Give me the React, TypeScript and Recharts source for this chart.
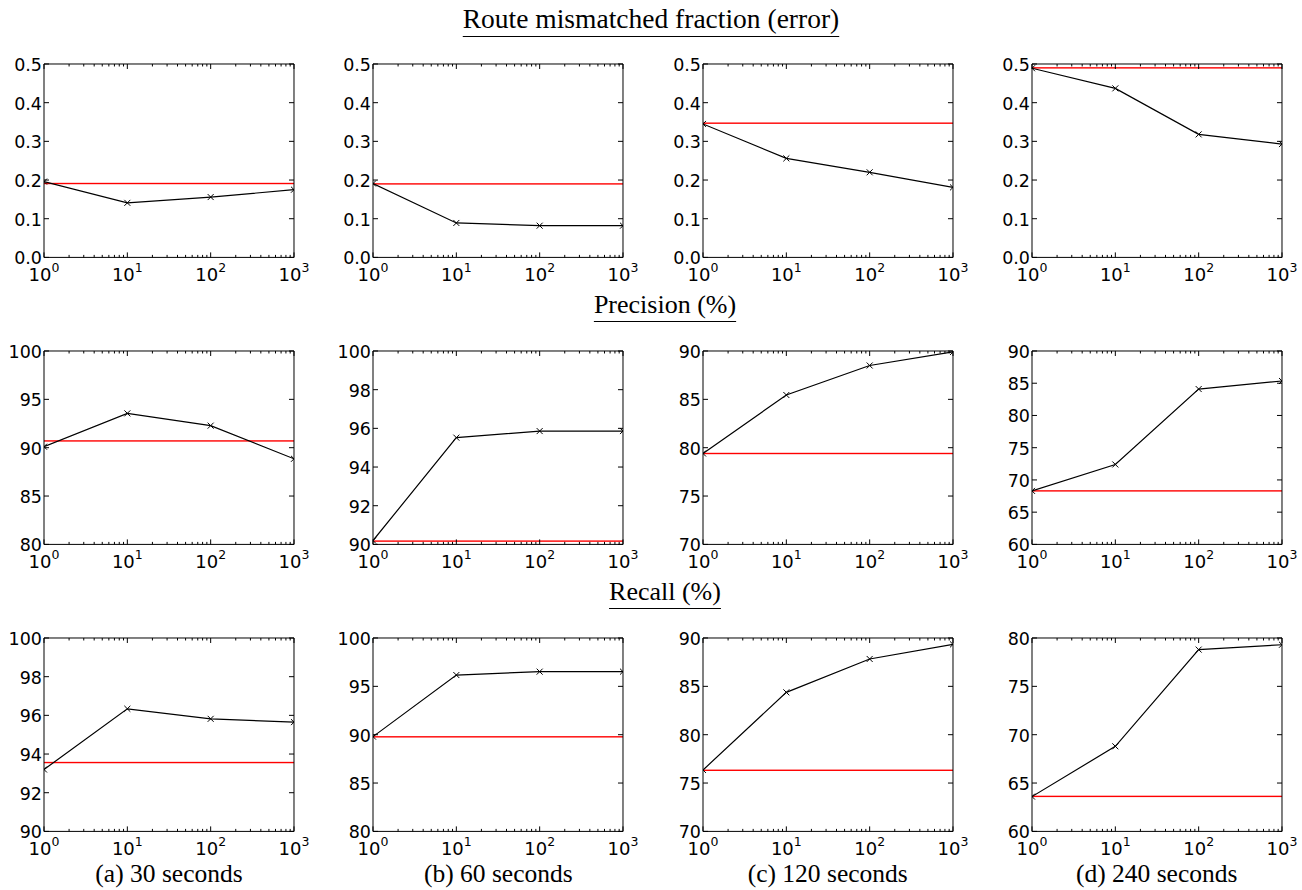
import React from 'react';
import { LineChart, Line, XAxis, YAxis, ReferenceLine } from 'recharts';

// x positions (log scale) shared by every panel
const xValues = [1, 10, 100, 1000];
const xTicks = [
  1, 2, 3, 4, 5, 6, 7, 8, 9,
  10, 20, 30, 40, 50, 60, 70, 80, 90,
  100, 200, 300, 400, 500, 600, 700, 800, 900,
  1000,
];

const rowTitles = ['Route mismatched fraction (error)', 'Precision (%)', 'Recall (%)'];
const captions = ['(a) 30 seconds', '(b) 60 seconds', '(c) 120 seconds', '(d) 240 seconds'];

// route mismatched fraction
const errorSeries = [
  [0.196, 0.141, 0.156, 0.175],
  [0.191, 0.089, 0.082, 0.082],
  [0.345, 0.256, 0.22, 0.181],
  [0.489, 0.437, 0.318, 0.293],
];
const errorBaseline = [0.191, 0.19, 0.347, 0.49];
const errorTicks = [
  [0, 0.1, 0.2, 0.3, 0.4, 0.5],
  [0, 0.1, 0.2, 0.3, 0.4, 0.5],
  [0, 0.1, 0.2, 0.3, 0.4, 0.5],
  [0, 0.1, 0.2, 0.3, 0.4, 0.5],
];

// precision (%)
const precisionSeries = [
  [90.1, 93.55, 92.28, 88.85],
  [90.2, 95.52, 95.86, 95.86],
  [79.4, 85.45, 88.5, 89.9],
  [68.3, 72.4, 84.1, 85.35],
];
const precisionBaseline = [90.7, 90.17, 79.4, 68.3];
const precisionTicks = [
  [80, 85, 90, 95, 100],
  [90, 92, 94, 96, 98, 100],
  [70, 75, 80, 85, 90],
  [60, 65, 70, 75, 80, 85, 90],
];

// recall (%)
const recallSeries = [
  [93.2, 96.34, 95.82, 95.65],
  [89.8, 96.17, 96.52, 96.52],
  [76.35, 84.38, 87.83, 89.34],
  [63.6, 68.8, 78.8, 79.3],
];
const recallBaseline = [93.56, 89.78, 76.32, 63.62];
const recallTicks = [
  [90, 92, 94, 96, 98, 100],
  [80, 85, 90, 95, 100],
  [70, 75, 80, 85, 90],
  [60, 65, 70, 75, 80],
];

const COL_LEFT = [44, 373.3, 702.7, 1031.7];
const ROW_TOP = [64.3, 351, 637.7];
const PW = 250;
const PH = 193.4;
const ML = 50;
const MT = 12;
const MR = 20;
const MB = 34;

const tickFont = '"DejaVu Sans", sans-serif';
const serif = '"Liberation Serif", "Times New Roman", serif';

const isMajor = (v: number) => {
  const e = Math.log10(v);
  return Math.abs(e - Math.round(e)) < 1e-9;
};

const BottomTick = (props: any) => {
  const { x, y, payload } = props;
  const v = payload.value;
  const major = isMajor(v);
  return (
    <g>
      <line x1={x} x2={x} y1={y} y2={y - (major ? 5 : 2.5)} stroke="#000" strokeWidth={1} />
      {major && (
        <text x={x} y={y + 24} textAnchor="middle" fontFamily={tickFont} fontSize={18} fill="#000">
          <tspan>10</tspan>
          <tspan dy={-9} fontSize={12.5}>{Math.round(Math.log10(v))}</tspan>
        </text>
      )}
    </g>
  );
};

const TopTick = (props: any) => {
  const { x, y, payload } = props;
  const major = isMajor(payload.value);
  return <line x1={x} x2={x} y1={y} y2={y + (major ? 5 : 2.5)} stroke="#000" strokeWidth={1} />;
};

const makeLeftTick = (decimals: number) => (props: any) => {
  const { x, y, payload } = props;
  return (
    <g>
      <line x1={x} x2={x + 5} y1={y} y2={y} stroke="#000" strokeWidth={1} />
      <text x={x - 2} y={y + 7} textAnchor="end" fontFamily={tickFont} fontSize={17.5} fill="#000">
        {Number(payload.value).toFixed(decimals)}
      </text>
    </g>
  );
};

const RightTick = (props: any) => {
  const { x, y } = props;
  return <line x1={x} x2={x - 5} y1={y} y2={y} stroke="#000" strokeWidth={1} />;
};

// red baseline drawn as a thin filled bar at the scaled y position
const BaselineShape = (props: any) => {
  const { x1, y1, x2 } = props;
  if (x1 == null || y1 == null) return <g />;
  return <rect x={x1} y={y1 - 0.7} width={x2 - x1} height={1.4} fill="#ff0000" stroke="none" />;
};

const renderCross = (props: any) => {
  const { cx, cy, index } = props;
  if (cx == null || cy == null) return <g key={`d-${index}`} />;
  const s = 3;
  return (
    <path
      key={`d-${index}`}
      d={`M${cx - s},${cy - s}L${cx + s},${cy + s}M${cx - s},${cy + s}L${cx + s},${cy - s}`}
      stroke="#000"
      strokeWidth={1}
      fill="none"
    />
  );
};

interface PanelProps {
  left: number;
  top: number;
  values: number[];
  baseline: number;
  yTicks: number[];
  decimals: number;
}

const Panel = ({ left, top, values, baseline, yTicks, decimals }: PanelProps) => {
  const data = xValues.map((x, i) => ({ x, y: values[i] }));
  const domain = [yTicks[0], yTicks[yTicks.length - 1]];
  const axisLine = { stroke: '#000', strokeWidth: 1 };
  return (
    <div style={{ position: 'absolute', left: left - ML, top: top - MT }}>
      <LineChart
        width={PW + ML + MR}
        height={PH + MT + MB}
        data={data}
        margin={{ top: 0, right: 0, bottom: 0, left: 0 }}
      >
        <XAxis
          xAxisId="b"
          dataKey="x"
          type="number"
          scale="log"
          domain={[1, 1000]}
          ticks={xTicks}
          interval={0}
          allowDataOverflow
          height={MB}
          tickSize={0}
          tickMargin={0}
          tickLine={false}
          axisLine={axisLine}
          tick={BottomTick}
        />
        <XAxis
          xAxisId="t"
          orientation="top"
          dataKey="x"
          type="number"
          scale="log"
          domain={[1, 1000]}
          ticks={xTicks}
          interval={0}
          allowDataOverflow
          height={MT}
          tickSize={0}
          tickMargin={0}
          tickLine={false}
          axisLine={axisLine}
          tick={TopTick}
        />
        <YAxis
          yAxisId="l"
          type="number"
          domain={domain}
          ticks={yTicks}
          interval={0}
          allowDataOverflow
          width={ML}
          tickSize={0}
          tickMargin={0}
          tickLine={false}
          axisLine={axisLine}
          tick={makeLeftTick(decimals)}
        />
        <YAxis
          yAxisId="r"
          orientation="right"
          type="number"
          domain={domain}
          ticks={yTicks}
          interval={0}
          allowDataOverflow
          width={MR}
          tickSize={0}
          tickMargin={0}
          tickLine={false}
          axisLine={axisLine}
          tick={RightTick}
        />
        <ReferenceLine
          xAxisId="b"
          yAxisId="l"
          y={baseline}
          stroke="#ff0000"
          shape={BaselineShape}
        />
        <Line
          xAxisId="b"
          yAxisId="l"
          dataKey="y"
          stroke="#000"
          strokeWidth={1.2}
          dot={renderCross}
          activeDot={false}
          isAnimationActive={false}
        />
      </LineChart>
    </div>
  );
};

const rows = [
  { series: errorSeries, baselines: errorBaseline, ticks: errorTicks, decimals: 1 },
  { series: precisionSeries, baselines: precisionBaseline, ticks: precisionTicks, decimals: 0 },
  { series: recallSeries, baselines: recallBaseline, ticks: recallTicks, decimals: 0 },
];

const titleCenters = [651, 665, 665];
const titleTops = [5.5, 292, 579];
const titleSizes = [27.5, 26, 26];

export default function App() {
  return (
    <div
      style={{
        position: 'absolute',
        left: 0,
        top: 0,
        width: 1302,
        height: 890,
        background: '#fff',
        overflow: 'hidden',
      }}
    >
      {rowTitles.map((t, r) => (
        <div
          key={t}
          style={{
            position: 'absolute',
            left: titleCenters[r] - 300,
            width: 600,
            top: titleTops[r],
            textAlign: 'center',
            fontFamily: serif,
            fontSize: titleSizes[r],
            lineHeight: '26px',
            color: '#000',
          }}
        >
          <span
            style={{
              textDecoration: 'underline',
              textUnderlineOffset: '8px',
              textDecorationThickness: '1px',
            }}
          >
            {t}
          </span>
        </div>
      ))}
      {rows.map((row, r) =>
        COL_LEFT.map((left, c) => (
          <Panel
            key={`${r}-${c}`}
            left={left}
            top={ROW_TOP[r]}
            values={row.series[c]}
            baseline={row.baselines[c]}
            yTicks={row.ticks[c]}
            decimals={row.decimals}
          />
        ))
      )}
      {captions.map((cap, c) => (
        <div
          key={cap}
          style={{
            position: 'absolute',
            left: COL_LEFT[c] + PW / 2 - 150,
            width: 300,
            top: 864.4,
            textAlign: 'center',
            fontFamily: serif,
            fontSize: 25.5,
            lineHeight: '20px',
            color: '#000',
          }}
        >
          {cap}
        </div>
      ))}
    </div>
  );
}
